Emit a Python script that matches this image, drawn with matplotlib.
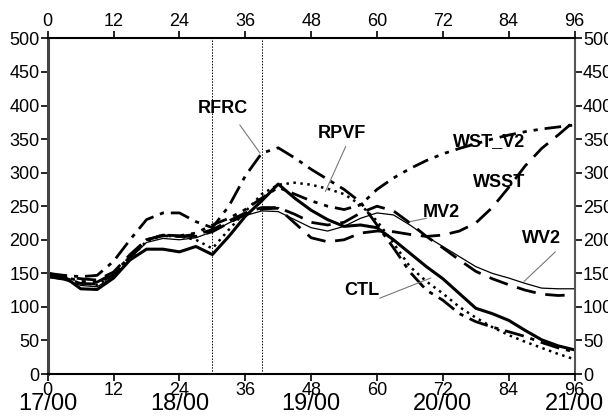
import matplotlib
matplotlib.use("Agg")
import matplotlib.pyplot as plt

plt.rcParams['font.family'] = ['Liberation Sans', 'DejaVu Sans']

hours = list(range(0, 97, 3))
CTL = [150,145,127,126,143,170,186,186,182,190,178,205,235,258,283,262,244,230,220,222,218,200,180,160,142,120,98,90,80,65,51,42,36]
RPVF = [148,144,135,133,148,172,198,206,205,200,187,215,242,268,282,285,282,276,268,252,228,195,160,138,120,100,84,70,58,48,39,30,22]
RFRC = [150,147,145,147,168,200,230,240,240,227,218,250,295,329,337,322,305,290,275,256,222,188,152,125,110,90,78,70,63,56,47,39,33]
WST_V2 = [148,145,138,137,150,175,200,207,206,210,222,232,245,262,278,268,258,250,245,252,275,292,306,318,328,336,343,350,356,361,365,368,371]
WSST = [146,145,142,140,152,178,200,206,205,205,212,225,238,246,247,225,203,197,200,210,213,212,208,205,207,213,225,248,278,310,336,356,377]
MV2 = [145,142,135,134,148,175,200,207,205,208,215,228,240,248,248,238,226,222,226,240,250,243,225,205,188,170,153,142,133,125,119,117,118]
WV2 = [144,140,132,130,145,172,196,202,200,203,212,225,236,243,242,230,218,213,220,232,240,237,222,205,190,175,160,150,143,135,128,127,127]

hour_ticks = [0, 12, 24, 36, 48, 60, 72, 84, 96]
y_ticks = list(range(0, 501, 50))
date_ticks = [0, 24, 48, 72, 96]
date_labels = ["17/00", "18/00", "19/00", "20/00", "21/00"]
marker_hours = [30, 39]

fig = plt.figure(figsize=(6.08, 4.17), dpi=100)
ax = fig.add_axes([0.0785, 0.103, 0.8665, 0.805])

ax.plot(hours, WV2, color='black', lw=0.9)
ax.plot(hours, MV2, color='black', lw=2.0, dashes=(7, 3.5))
ax.plot(hours, WSST, color='black', lw=2.0, dashes=(7, 3.5))
ax.plot(hours, WST_V2, color='black', lw=2.0, dashes=(6, 2.5, 1.5, 2.5, 1.5, 2.5))
ax.plot(hours, RFRC, color='black', lw=2.0, dashes=(7, 2.5, 1.5, 2.5))
ax.plot(hours, RPVF, color='black', lw=1.8, dashes=(1, 1.8))
ax.plot(hours, CTL, color='black', lw=2.2)

for h in marker_hours:
    ax.axvline(h, color='black', lw=0.7, ls=(0, (1.5, 1.5)))

ax.set_xlim(0, 96)
ax.set_ylim(0, 500)
ax.set_xticks(hour_ticks)
ax.set_yticks(y_ticks)
ax.tick_params(axis='both', direction='out', length=5, width=1.2, labelsize=13,
               top=True, right=True, labeltop=True, labelright=True, pad=1)
for s in ax.spines.values():
    s.set_linewidth(1.5)
ax.spines['left'].set_linewidth(2.2)
ax.spines['left'].set_color('#444444')
ax.spines['right'].set_color('#555555')

for t, lab in zip(date_ticks, date_labels):
    ax.annotate(lab, xy=(t, 0), xycoords='data', xytext=(0, -13.5), textcoords='offset points',
                ha='center', va='top', fontsize=17)

ann = dict(fontsize=13, fontweight='bold', ha='center', va='center')
pc = dict(arrowstyle='-', color='#777777', lw=0.8, shrinkA=0, shrinkB=0)
ax.text(31.9, 396, "RFRC", **ann)
ax.annotate("", xy=(38.7, 329), xytext=(35, 371), arrowprops=pc)
ax.text(53.6, 359, "RPVF", **ann)
ax.annotate("", xy=(50.6, 272), xytext=(54.3, 339), arrowprops=pc)
ax.text(80.4, 347, "WST_V2", **ann)
ax.text(82.2, 285, "WSST", **ann)
ax.text(71.7, 241, "MV2", **ann)
ax.annotate("", xy=(66, 227), xytext=(69, 232), arrowprops=pc)
ax.text(89.9, 202, "WV2", **ann)
ax.annotate("", xy=(86.8, 138), xytext=(92.5, 182), arrowprops=pc)
ax.text(57.2, 124, "CTL", **ann)
ax.annotate("", xy=(69.8, 143), xytext=(60.5, 113), arrowprops=pc)

fig.savefig("out.png", dpi=100)
